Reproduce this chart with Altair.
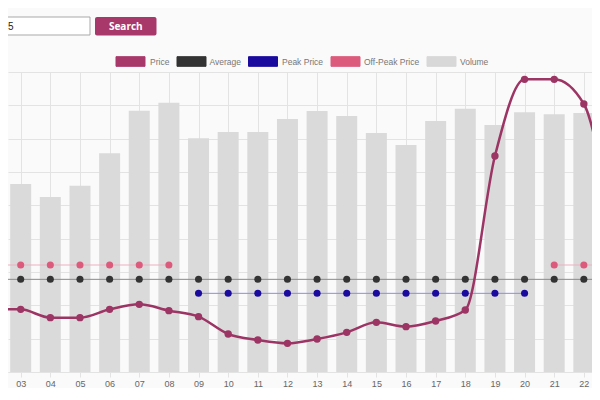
import altair as alt
import pandas as pd

# ---- data ----
hours = [2, 3, 4, 5, 6, 7, 8, 9, 10, 11, 12, 13, 14, 15, 16, 17, 18, 19, 20, 21, 22, 23]
volume = [3580, 3760, 3500, 3726, 4374, 5226, 5386, 4674, 4800, 4800, 5060,
          5220, 5120, 4780, 4540, 5020, 5266, 4940, 5194, 5154, 5180, 4900]
price = [37.8, 37.6, 32.6, 32.6, 37.6, 40.6, 36.8, 33.2, 22.8, 19.2, 17.2,
         19.8, 23.8, 29.8, 27.2, 30.6, 37.2, 129.6, 175.6, 175.6, 160.8, 76.2]
average = [55.6, 55.6, 55.6, 55.6, 55.6, 55.6, 55.6, 55.6, 55.6, 55.6, 55.6,
           55.6, 55.6, 55.6, 55.6, 55.6, 55.6, 55.6, 55.6, 55.6, 55.6, 55.6]
peak_price = [None, None, None, None, None, None, None, 47.2, 47.2, 47.2, 47.2,
              47.2, 47.2, 47.2, 47.2, 47.2, 47.2, 47.2, 47.2, None, None, None]
offpeak_price = [64.2, 64.2, 64.2, 64.2, 64.2, 64.2, 64.2, None, None, None, None,
                 None, None, None, None, None, None, None, None, 64.2, 64.2, 64.2]
x_ticks = [3, 4, 5, 6, 7, 8, 9, 10, 11, 12, 13, 14, 15, 16, 17, 18, 19, 20, 21, 22]
price_ticks = [0, 20, 40, 60, 80, 100, 120, 140, 160, 180]
volume_ticks = [0, 1000, 2000, 3000, 4000, 5000, 6000]
legend_labels = ["Price", "Average", "Peak Price", "Off-Peak Price", "Volume"]
legend_colors = ["#a8386a", "#333333", "#1a0a9e", "#dc5a7c", "#d8d8d8"]
search_text = "5"
button_text = "Search"

df = pd.DataFrame({"hour": hours, "volume": volume, "price": price,
                   "average": average, "peak": peak_price, "offpeak": offpeak_price})

FONT = "Liberation Sans"
GRID = "#e3e3e3"
PRICE_C = "#9c3464"

xscale = alt.Scale(domain=[2.5715, 22.275], nice=False, zero=False, padding=0)
xaxis = alt.Axis(values=x_ticks, labelExpr="format(datum.value, '02d')", grid=True,
                 gridColor=GRID, tickColor=GRID, tickSize=5, labelPadding=2,
                 labelFont=FONT, labelFontSize=9, labelColor="#666666",
                 domainColor=GRID, title=None)
pscale = alt.Scale(domain=[0, 180], nice=False, zero=False)

base = alt.Chart(df)

# grid-only layer for the price axis
grid_price = base.mark_point(opacity=0).encode(
    y=alt.Y("price:Q", scale=pscale,
            axis=alt.Axis(values=price_ticks, labels=False, ticks=False, domain=False,
                          gridColor=GRID, title=None, orient="left")),
)

bars = base.mark_bar(color="#dadada", size=21, clip=True).encode(
    x=alt.X("hour:Q", scale=xscale, axis=xaxis),
    y=alt.Y("volume:Q", scale=alt.Scale(domain=[0, 6000], nice=False),
            axis=alt.Axis(values=volume_ticks, labels=False, ticks=False, domain=False,
                          gridColor=GRID, title=None, orient="right")),
)

price_line = base.mark_line(color=PRICE_C, strokeWidth=2.5, interpolate="monotone", clip=True).encode(
    x=alt.X("hour:Q", scale=xscale, axis=xaxis),
    y=alt.Y("price:Q", scale=pscale, axis=None),
)
price_pts = base.mark_point(filled=True, opacity=1, color=PRICE_C, size=55, clip=True).encode(
    x=alt.X("hour:Q", scale=xscale, axis=xaxis),
    y=alt.Y("price:Q", scale=pscale, axis=None),
)

avg_line = base.mark_line(color="#8a8a8a", strokeWidth=1, clip=True).encode(
    x=alt.X("hour:Q", scale=xscale, axis=xaxis),
    y=alt.Y("average:Q", scale=pscale, axis=None),
)
avg_pts = base.mark_point(filled=True, opacity=1, color="#333333", size=50, clip=True).encode(
    x=alt.X("hour:Q", scale=xscale, axis=xaxis),
    y=alt.Y("average:Q", scale=pscale, axis=None),
)

peak_base = base.transform_filter("isValid(datum.peak)")
peak_line = peak_base.mark_line(color="#8f8ae6", strokeWidth=1, clip=True).encode(
    x=alt.X("hour:Q", scale=xscale, axis=xaxis),
    y=alt.Y("peak:Q", scale=pscale, axis=None),
)
peak_pts = peak_base.mark_point(filled=True, opacity=1, color="#1a0a9e", size=50, clip=True).encode(
    x=alt.X("hour:Q", scale=xscale, axis=xaxis),
    y=alt.Y("peak:Q", scale=pscale, axis=None),
)

off_base = base.transform_filter("isValid(datum.offpeak)").transform_calculate(
    seg="datum.hour < 15 ? 'a' : 'b'")
off_line = off_base.mark_line(color="#eeb0c0", strokeWidth=1, clip=True).encode(
    x=alt.X("hour:Q", scale=xscale, axis=xaxis),
    y=alt.Y("offpeak:Q", scale=pscale, axis=None),
    detail="seg:N",
)
off_pts = off_base.mark_point(filled=True, opacity=1, color="#dc5a7c", size=50, clip=True).encode(
    x=alt.X("hour:Q", scale=xscale, axis=xaxis),
    y=alt.Y("offpeak:Q", scale=pscale, axis=None),
)

# ---- page decorations (search box, button, legend); plot origin is page (8, 72) ----
one = pd.DataFrame({"k": [0]})


def rect(x, x2, y, y2, **kw):
    return alt.Chart(one).mark_rect(**kw).encode(
        x=alt.value(x), x2=alt.value(x2), y=alt.value(y), y2=alt.value(y2))


def text(t, x, y, **kw):
    return alt.Chart(one).mark_text(text=t, **kw).encode(x=alt.value(x), y=alt.value(y))


decor = [
    rect(-20, 82, -55, -37, fill="#ffffff", stroke="#a9a9a9", strokeWidth=1),
    text(search_text, 0, -45.5, align="left", baseline="middle", font=FONT, fontSize=10, color="#222222"),
    rect(87, 148.5, -55, -36.5, fill="#a8386a", cornerRadius=2),
    text(button_text, 117.8, -45.5, align="center", baseline="middle", font="Open Sans",
         fontSize=10, fontWeight="bold", color="#ffffff"),
]
sw_x = [108, 169, 240.5, 323, 419]
tx_x = [142, 201.5, 274, 356, 452]
for lab, col, sx, tx in zip(legend_labels, legend_colors, sw_x, tx_x):
    decor.append(rect(sx, sx + 29, -15.3, -5.7, fill=col, stroke=col, strokeWidth=1))
    decor.append(text(lab, tx, -10.5, align="left", baseline="middle", font=FONT,
                      fontSize=8.5, color="#777777"))

chart = alt.layer(
    grid_price, bars, avg_line, peak_line, off_line, price_line,
    avg_pts, peak_pts, off_pts, price_pts, *decor
).resolve_scale(y="independent").properties(
    width=584, height=300,
    autosize=alt.AutoSizeParams(type="none"),
    padding={"left": 0, "top": 64, "right": 0, "bottom": 16},
).configure(background="#fafafa").configure_view(stroke=None)

chart.save("out.html", embed_options={"renderer": "svg", "actions": False})
